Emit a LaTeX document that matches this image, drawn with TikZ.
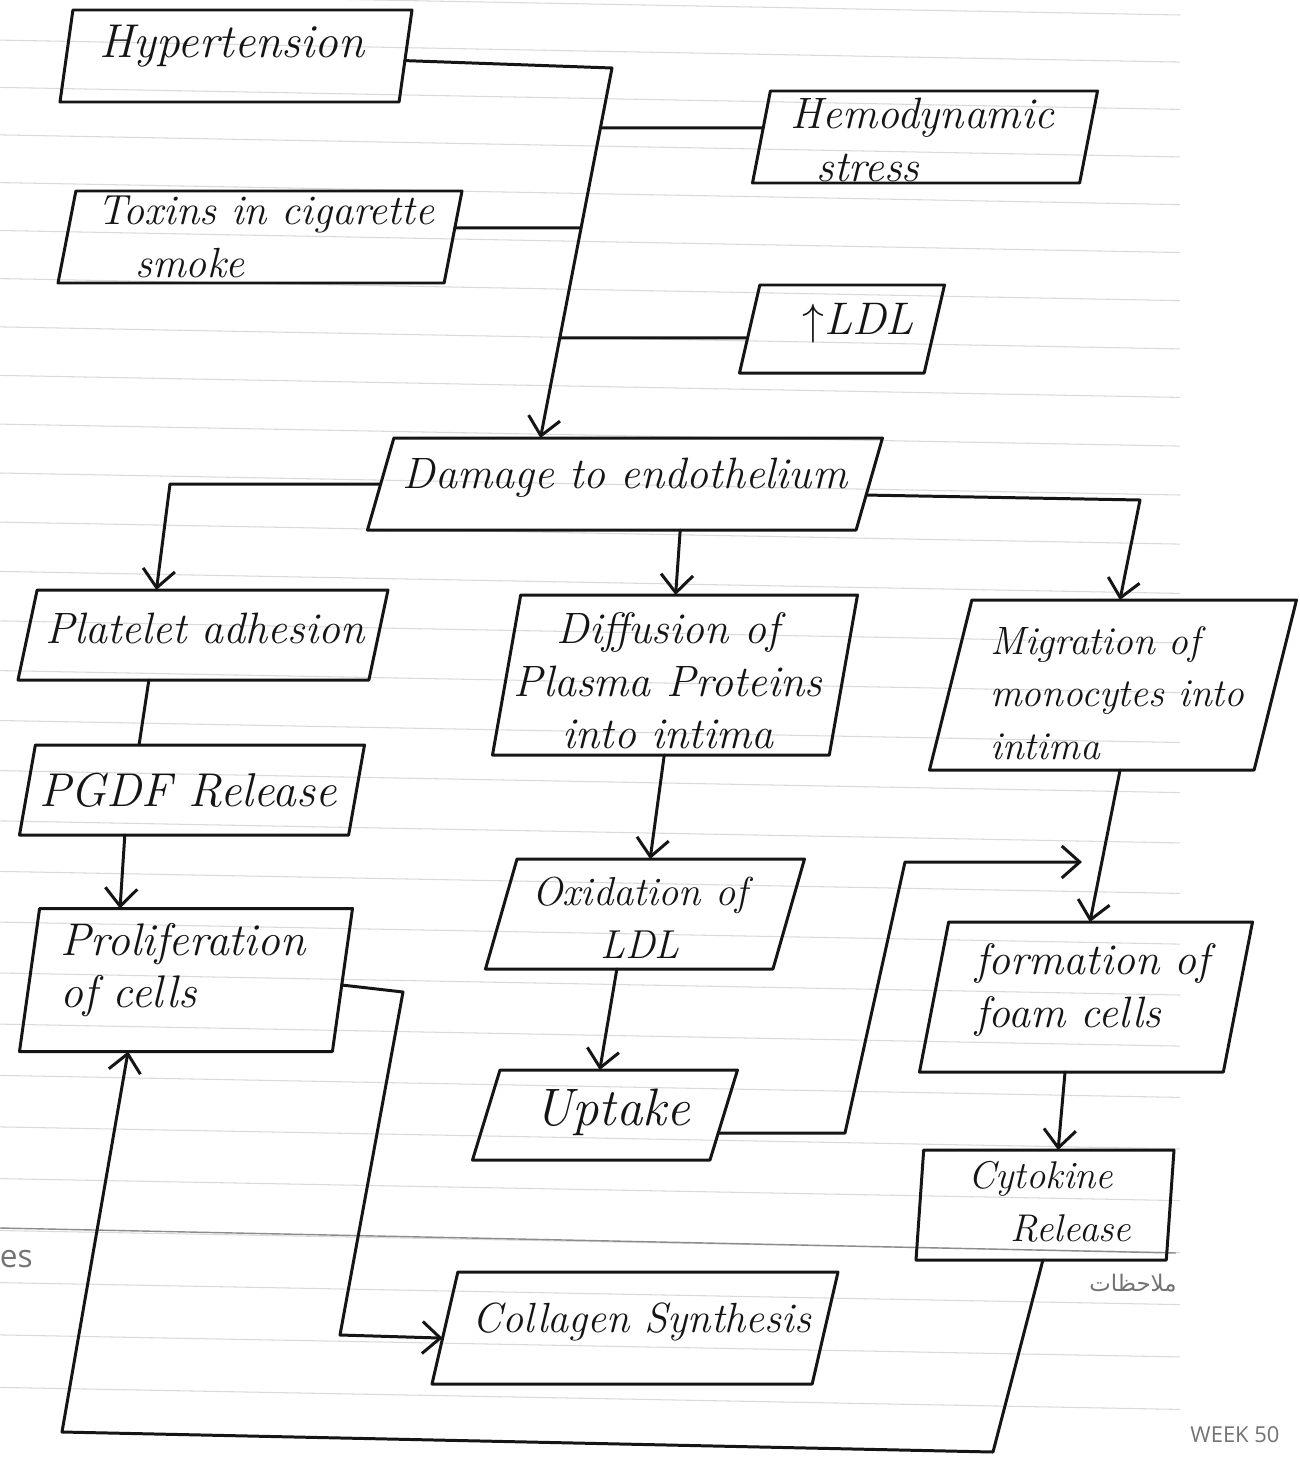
\documentclass[tikz,border=0pt]{standalone}
\usepackage{fontspec}
\newfontfamily\notesf{Open Sans}
\newfontfamily\arabicfont[Script=Arabic]{DejaVu Sans}
\TeXXeTstate=1
\usetikzlibrary{shapes.geometric,arrows.meta,calc}
\definecolor{ink}{HTML}{151515}
\definecolor{rulegray}{HTML}{DADADA}
\begin{document}
\begin{tikzpicture}[x=0.2mm,y=-0.2mm,
  ln/.style={draw=ink,line width=1.7pt,line cap=round,line join=round},
  arr/.style={ln,-{Straight Barb[length=3.6mm,width=6.4mm,line width=1.7pt]}},
  pbox/.style 2 args={draw=ink,line width=1.7pt,line join=round,trapezium,trapezium stretches body,
    inner sep=0pt,outer sep=0pt,trapezium left angle=#1,trapezium right angle=#2},
  sz/.style 2 args={minimum width=#1,text height=#2,text depth=0pt,text width=0pt},
  hand/.style={font=\fontsize{#1}{30}\selectfont\itshape,text=ink,inner sep=0pt},
  hand/.default=25,
  rule/.style={draw=rulegray,line width=0.6pt},
  foot/.style={text=black!55,inner sep=0pt}
]
\useasboundingbox (0,0) rectangle (1299,1458);
\fill[white] (0,0) rectangle (1299,1458);

% ruled notebook lines
\foreach \k in {0,...,28} {
  \pgfmathsetmacro\yr{15+47*\k+0.1*\k*\k}
  \draw[rule] (0,\yr-22) -- (1180,\yr);
}
\draw[draw=black!45,line width=0.8pt] (0,1228) -- (1176,1253);

% footer print
\node[foot,font=\notesf\fontsize{18}{20}\selectfont,anchor=east] (notes) at (33,1259) {es};
\node[foot,anchor=center] (mulahazat) at (1133,1283) {\arabicfont\fontsize{13}{15}\selectfont\beginR ملاحظات\endR};
\node[foot,font=\notesf\fontsize{12.5}{14}\selectfont] (week) at (1235,1435) {WEEK 50};

% boxes
\node[pbox={82}{98},sz={70.4mm}{18.4mm}] (hyp) at (236,56) {};
\node[pbox={79}{101},sz={69mm}{18.4mm}] (hemo) at (925,137) {};
\node[pbox={79}{101},sz={80.8mm}{18.4mm}] (tox) at (260,237) {};
\node[pbox={77}{103},sz={41mm}{17.6mm}] (ldl) at (842,329) {};
\node[pbox={74}{106},sz={103mm}{18.4mm}] (dmg) at (625,484) {};
\node[pbox={78}{102},sz={74mm}{18mm}] (plat) at (203,635) {};
\node[pbox={80}{100},sz={73mm}{32mm}] (diff) at (675,675) {};
\node[pbox={76}{104},sz={73.4mm}{34mm}] (migr) at (1113,685) {};
\node[pbox={80}{100},sz={69mm}{18mm}] (pgdf) at (192,790) {};
\node[pbox={74}{106},sz={63.8mm}{22mm}] (oxid) at (645,914) {};
\node[pbox={82}{98},sz={66.6mm}{28.6mm}] (prol) at (186,980) {};
\node[pbox={79}{101},sz={66.6mm}{30mm}] (foam) at (1086,997) {};
\node[pbox={73}{107},sz={53mm}{18mm}] (upt) at (605,1115) {};
\node[pbox={86}{94},sz={51.6mm}{22mm}] (cyto) at (1045,1205) {};
\node[pbox={77}{103},sz={81.2mm}{22.4mm}] (coll) at (635,1328) {};

% texts
\node[hand=27] (hypT) at (232,46) {Hypertension};
\node[hand,anchor=west,align=left] (hemoT) at (790,140) {Hemodynamic\\\hspace*{0.6em}stress};
\node[hand=24,anchor=west,align=left] (toxT) at (97,237) {Toxins in cigarette\\\hspace*{0.9em}smoke};
\node[hand=26] (ldlT) at (858,323) {$\uparrow$LDL};
\node[hand] (dmgT) at (625,478) {Damage to endothelium};
\node[hand] (platT) at (205,628) {Platelet adhesion};
\node[hand,align=center] (diffT) at (668,681) {Diffusion of\\Plasma Proteins\\into intima};
\node[hand=22.5,anchor=west,align=left] (migrT) at (990,693) {Migration of\\monocytes into\\intima};
\node[hand=27] (pgdfT) at (188,790) {PGDF Release};
\node[hand=23,align=center] (oxidT) at (640,918) {Oxidation of\\LDL};
\node[hand=26,anchor=west,align=left] (prolT) at (60,970) {Proliferation\\of cells};
\node[hand,anchor=west,align=left] (foamT) at (975,990) {formation of\\foam cells};
\node[hand=30] (uptT) at (612,1112) {Uptake};
\node[hand=22,anchor=west,align=left] (cytoT) at (968,1202) {Cytokine\\\hspace*{1.1em}Release};
\node[hand=24] (collT) at (642,1322) {Collagen Synthesis};

% risk factors into the trunk
\coordinate (t0) at (612,68);
\coordinate (tend) at ($(dmg.top left corner)!0.3!(dmg.top right corner)$);
\draw[arr] ($(hyp.top right corner)!0.55!(hyp.bottom right corner)$) -- (t0) -- (tend);

\coordinate (h1) at ($(hemo.top left corner)!0.4!(hemo.bottom left corner)$);
\coordinate (h2) at (h1 -| t0);
\draw[ln] (h1) -- (intersection of t0--tend and h1--h2);

\coordinate (x1) at ($(tox.top right corner)!0.4!(tox.bottom right corner)$);
\coordinate (x2) at (x1 -| t0);
\draw[ln] (x1) -- (intersection of t0--tend and x1--x2);

\coordinate (l1) at ($(ldl.top left corner)!0.6!(ldl.bottom left corner)$);
\coordinate (l2) at (l1 -| t0);
\draw[ln] (l1) -- (intersection of t0--tend and l1--l2);

% damage branches
\coordinate (p0) at ($(dmg.top left corner)!0.5!(dmg.bottom left corner)$);
\coordinate (p1) at (170,484);
\draw[arr] (p0) -- (p1) -- ($(plat.top left corner)!0.34!(plat.top right corner)$);

\draw[arr] ($(dmg.bottom left corner)!0.64!(dmg.bottom right corner)$) -- ($(diff.top left corner)!0.46!(diff.top right corner)$);

\coordinate (m0) at ($(dmg.top right corner)!0.62!(dmg.bottom right corner)$);
\coordinate (m1) at (1140,500);
\draw[arr] (m0) -- (m1) -- ($(migr.top left corner)!0.456!(migr.top right corner)$);

% left column
\draw[ln] ($(pgdf.top left corner)!0.315!(pgdf.top right corner)$) -- ($(plat.bottom left corner)!0.373!(plat.bottom right corner)$);
\draw[arr] ($(pgdf.bottom left corner)!0.32!(pgdf.bottom right corner)$) -- ($(prol.top left corner)!0.257!(prol.top right corner)$);

% middle column
\draw[arr] ($(diff.bottom left corner)!0.51!(diff.bottom right corner)$) -- ($(oxid.top left corner)!0.463!(oxid.top right corner)$);
\draw[arr] ($(oxid.bottom left corner)!0.457!(oxid.bottom right corner)$) -- ($(upt.top left corner)!0.42!(upt.top right corner)$);

\coordinate (u1) at ($(upt.top right corner)!0.7!(upt.bottom right corner)$);
\coordinate (u2) at (845,1133);
\coordinate (u3) at (905,862);
\coordinate (u4) at (1082,862);
\draw[arr] (u1) -- (u2) -- (u3) -- (u4);

% right column
\draw[arr] ($(migr.bottom left corner)!0.587!(migr.bottom right corner)$) -- ($(foam.top left corner)!0.465!(foam.top right corner)$);
\draw[arr] ($(foam.bottom left corner)!0.479!(foam.bottom right corner)$) -- ($(cyto.top left corner)!0.537!(cyto.top right corner)$);

% proliferation -> collagen
\coordinate (c0) at ($(prol.top right corner)!0.535!(prol.bottom right corner)$);
\coordinate (c1) at (403,992);
\coordinate (c2) at (340,1335);
\draw[arr] (c0) -- (c1) -- (c2) -- ($(coll.top left corner)!0.59!(coll.bottom left corner)$);

% cytokine feedback -> proliferation
\coordinate (f0) at ($(cyto.bottom left corner)!0.507!(cyto.bottom right corner)$);
\coordinate (f1) at (993,1452);
\coordinate (f2) at (62,1432);
\draw[arr] (f0) -- (f1) -- (f2) -- ($(prol.bottom left corner)!0.347!(prol.bottom right corner)$);
\end{tikzpicture}
\end{document}
